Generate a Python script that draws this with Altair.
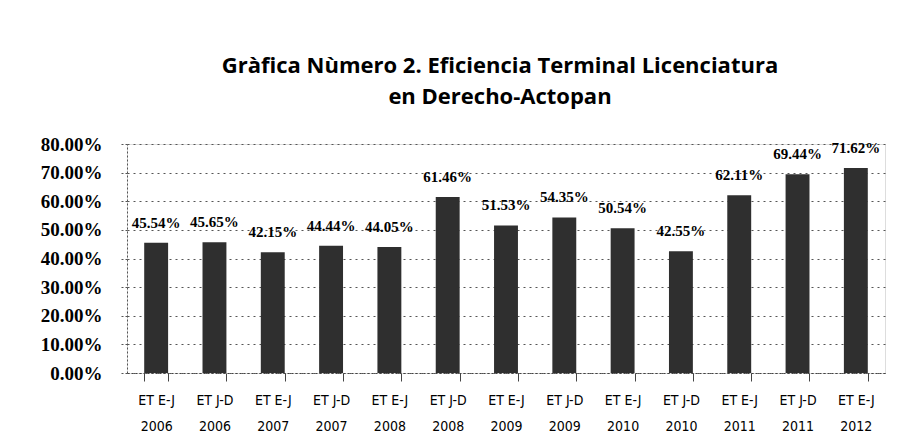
import altair as alt
import pandas as pd

periods = ["ET E-J", "ET J-D", "ET E-J", "ET J-D", "ET E-J", "ET J-D", "ET E-J",
           "ET J-D", "ET E-J", "ET J-D", "ET E-J", "ET J-D", "ET E-J"]
years = ["2006", "2006", "2007", "2007", "2008", "2008", "2009",
         "2009", "2010", "2010", "2011", "2011", "2012"]
values = [45.54, 45.65, 42.15, 44.44, 44.05, 61.46, 51.53,
          54.35, 50.54, 42.55, 62.11, 69.44, 71.62]
y_ticks = [0, 0.1, 0.2, 0.3, 0.4, 0.5, 0.6, 0.7, 0.8]

df = pd.DataFrame({
    "cat": [p + "|" + y for p, y in zip(periods, years)],
    "valor": [v / 100 for v in values],
})

x = alt.X(
    "cat:N", sort=None,
    scale=alt.Scale(paddingInner=0.59, paddingOuter=0.295),
    axis=alt.Axis(
        title=None, labelAngle=0, labelExpr="split(datum.label, '|')",
        labelFont="Liberation Sans Narrow, Arial Narrow, DejaVu Sans Condensed, sans-serif",
        labelFontSize=14, labelColor="black",
        labelLineHeight=26, labelPadding=12, tickBand="extent", tickSize=8,
        tickColor="#444", domainColor="#444", domainDash=[2, 2], grid=False,
    ),
)
y = alt.Y(
    "valor:Q",
    scale=alt.Scale(domain=[0, 0.8]),
    axis=alt.Axis(
        title=None, format=".2%", values=y_ticks,
        labelFont="Liberation Serif", labelFontSize=19, labelFontWeight="bold",
        labelColor="black", labelPadding=17, tickSize=8, tickDash=[2, 2],
        tickColor="#555", domainDash=[2, 2], domainColor="#555",
        grid=True, gridDash=[2, 4], gridColor="#555", gridOpacity=1,
    ),
)

base = alt.Chart(df).encode(x=x, y=y)
bars = base.mark_bar(color="#2f2f2f")
labels = base.mark_text(
    dy=-20, font="Liberation Serif", fontSize=15, fontWeight="bold", color="black"
).encode(text=alt.Text("valor:Q", format=".2%"))

chart = (
    (bars + labels)
    .properties(
        width=758, height=229,
        autosize=alt.AutoSizeParams(type="none"),
        padding={"left": 119, "top": 136, "right": 17, "bottom": 66},
        title=alt.TitleParams(
            text=["Gràfica Nùmero 2. Eficiencia Terminal Licenciatura", "en Derecho-Actopan"],
            font="Open Sans", fontSize=22, fontWeight="bold", lineHeight=31,
            offset=26, anchor="middle", color="black", dx=-6,
        ),
    )
    .configure_view(stroke=None)
    .configure(background="white")
)

chart.save("out.html", embed_options={"renderer": "svg", "actions": False})
